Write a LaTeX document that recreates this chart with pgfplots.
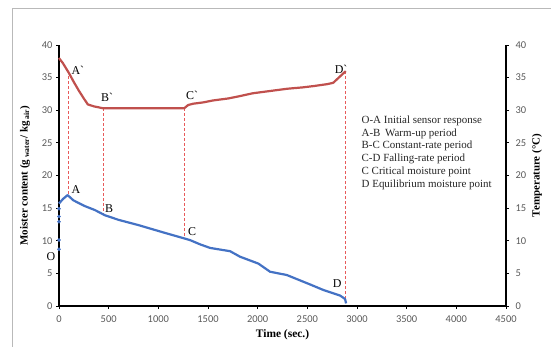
\documentclass[border=0pt]{standalone}
\usepackage{pgfplots}
\pgfplotsset{compat=1.18}
\usepackage{fontspec}
\setmainfont{Liberation Serif}
\newfontfamily\tickfont{Carlito}
\newfontfamily\rawserif{Liberation Serif}[Ligatures=TeXOff]
\definecolor{tblue}{RGB}{68,114,196}
\definecolor{tred}{RGB}{192,80,77}
\definecolor{dred}{RGB}{232,90,90}
\definecolor{tgray}{RGB}{89,89,89}
\newcommand{\bq}{{\rawserif `}}
\begin{document}
\begin{tikzpicture}
\path[use as bounding box] (-59bp,-41bp) rectangle (492bp,306bp);
\draw[gray!55, line width=0.8bp] (-47bp,-41bp) -- (-47bp,298bp) -- (492bp,298bp);
\begin{axis}[
 at={(0,0)}, anchor=south west,
 scale only axis, width=447bp, height=261bp,
 xmin=0, xmax=4500, ymin=0, ymax=40,
 axis x line*=bottom, axis y line*=left,
 xtick={0,500,...,4500}, ytick={0,5,...,40},
 tick align=outside, major tick length=3bp,
 tick style={black, line width=0.8bp},
 axis line style={black, line width=1.2bp, -},
 ticklabel style={font=\tickfont\fontsize{10.5}{11}\selectfont, text=tgray},
 xticklabel style={yshift=-3bp},
 /pgf/number format/assume math mode=true,
 scaled x ticks=false, xticklabel style={/pgf/number format/1000 sep={}},
 xlabel={\bfseries Time (sec.)},
 xlabel style={font=\fontsize{11.5}{12}\selectfont, at={(rel axis cs:0.5,0)}, anchor=center, yshift=-29bp},
 ylabel={\bfseries Moister content (g\textsubscript{ water}/ kg\textsubscript{ air})},
 ylabel style={font=\fontsize{11}{12}\selectfont, at={(rel axis cs:0,0.5)}, anchor=center, yshift=34bp},
 clip=false,
]
% dashed guide lines
\addplot[dred, line width=1bp, dash pattern=on 3bp off 2bp] coordinates {(100,36) (100,17.0)};
\addplot[dred, line width=1bp, dash pattern=on 3bp off 2bp] coordinates {(445,30.3) (445,13.9)};
\addplot[dred, line width=1bp, dash pattern=on 3bp off 2bp] coordinates {(1260,30.3) (1260,10.3)};
\addplot[dred, line width=1bp, dash pattern=on 3bp off 2bp] coordinates {(2887,36) (2887,0.5)};
% temperature
\addplot[tred, line width=2.2bp, line join=round] coordinates {
(0,38) (40,37.2) (100,35.7) (150,34.3) (200,33) (250,31.8) (290,30.9) (350,30.6) (445,30.3)
(800,30.3) (1260,30.3) (1300,30.8) (1350,31.0) (1450,31.2) (1550,31.5) (1700,31.8) (1800,32.1)
(1950,32.6) (2050,32.8) (2200,33.1) (2300,33.3) (2450,33.5) (2560,33.7) (2700,34.0) (2760,34.2) (2887,36.0)};
% moisture
\addplot[tblue, line width=2.2bp, line join=round] coordinates {
(0,15.7) (40,16.4) (87,17.0) (144,16.2) (262,15.3) (362,14.7) (463,13.9) (600,13.2)
(799,12.4) (1067,11.2) (1252,10.4) (1319,10.1) (1420,9.45) (1521,8.9) (1722,8.4)
(1823,7.55) (2007,6.5) (2125,5.25) (2293,4.75) (2528,3.3) (2662,2.45) (2830,1.6) (2880,1.07) (2890,0.4)};
\addplot[tblue, only marks, mark=*, mark size=1.6bp] coordinates {(0,8.7) (0,10.1) (0,12.9) (0,13.7) (0,14.9)};
% point labels
\node[font=\fontsize{12}{12}\selectfont] at (axis cs:190,36.1) {A\bq};
\node[font=\fontsize{12}{12}\selectfont] at (axis cs:485,31.9) {B\bq};
\node[font=\fontsize{12}{12}\selectfont] at (axis cs:1340,32.3) {C\bq};
\node[font=\fontsize{12}{12}\selectfont] at (axis cs:2840,36.3) {D\bq};
\node[font=\fontsize{12}{12}\selectfont] at (axis cs:171,17.8) {A};
\node[font=\fontsize{12}{12}\selectfont] at (axis cs:505,15.0) {B};
\node[font=\fontsize{12}{12}\selectfont] at (axis cs:1340,11.4) {C};
\node[font=\fontsize{12}{12}\selectfont] at (axis cs:2800,3.5) {D};
\node[font=\fontsize{12}{12}\selectfont] at (axis cs:-80,7.6) {O};
% explanation text
\node[anchor=north west, inner sep=0pt, align=left, font=\fontsize{11}{12.8}\selectfont, text=black!85]
 at (axis cs:3045,29.2) {O-A Initial sensor response\\A-B\, Warm-up period\\B-C Constant-rate period\\C-D Falling-rate period\\C Critical moisture point\\D Equilibrium moisture point};
\end{axis}
\begin{axis}[
 at={(0,0)}, anchor=south west,
 scale only axis, width=447bp, height=261bp,
 xmin=0, xmax=4500, ymin=0, ymax=40,
 hide x axis, axis y line*=right,
 ytick={0,5,...,40},
 tick align=outside, major tick length=3bp,
 tick style={black, line width=0.8bp},
 axis line style={black, line width=1.2bp, -},
 ticklabel style={font=\tickfont\fontsize{10.5}{11}\selectfont, text=tgray},
 yticklabel style={xshift=3bp},
 /pgf/number format/assume math mode=true,
 ylabel={\bfseries Temperature (°C)},
 ylabel style={font=\fontsize{11}{12}\selectfont, at={(rel axis cs:1,0.5)}, anchor=center, rotate=0, yshift=-31bp},
]
\addplot[draw=none] coordinates {(0,0)};
\end{axis}
\end{tikzpicture}
\end{document}
